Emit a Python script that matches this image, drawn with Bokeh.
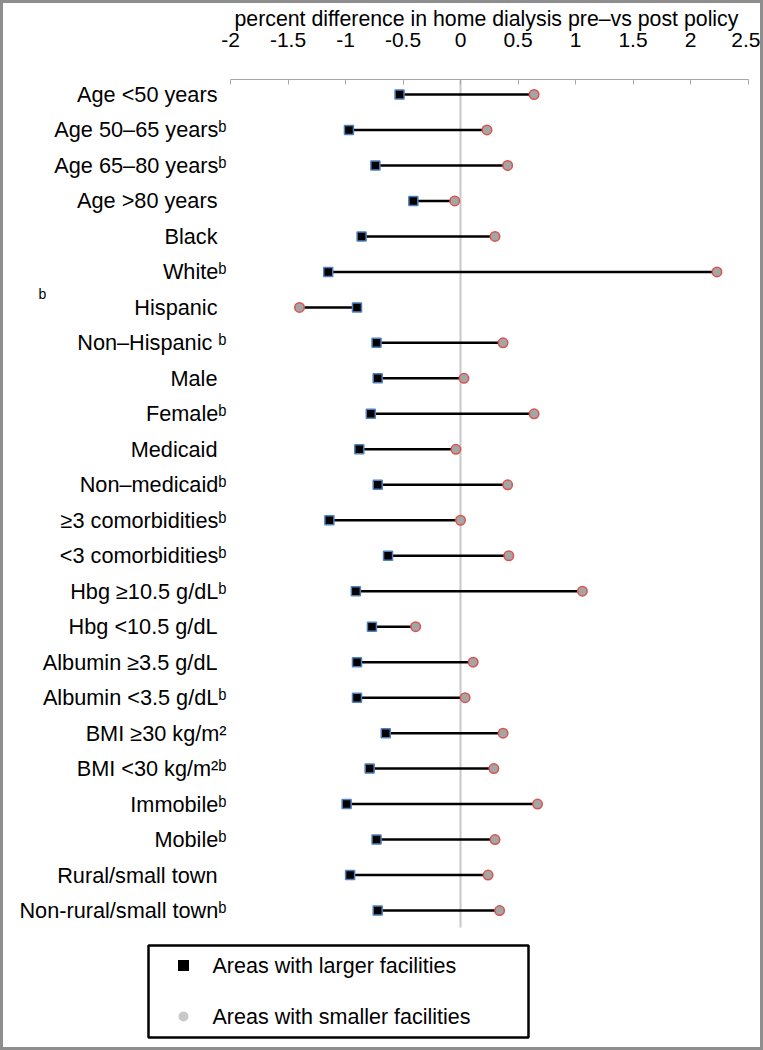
from bokeh.plotting import figure
from bokeh.models import Range1d, FixedTicker
from bokeh.embed import file_html
from bokeh.resources import INLINE
from bokeh.core.properties import value

# ---------------- data ----------------
categories = [
    "Age <50 years", "Age 50–65 yearsᵇ", "Age 65–80 yearsᵇ", "Age >80 years",
    "Black", "Whiteᵇ", "Hispanic", "Non–Hispanic ᵇ", "Male", "Femaleᵇ",
    "Medicaid", "Non–medicaidᵇ", "≥3 comorbiditiesᵇ", "<3 comorbiditiesᵇ",
    "Hbg ≥10.5 g/dLᵇ", "Hbg <10.5 g/dL", "Albumin ≥3.5 g/dL", "Albumin <3.5 g/dLᵇ",
    "BMI ≥30 kg/m²", "BMI <30 kg/m²ᵇ", "Immobileᵇ", "Mobileᵇ",
    "Rural/small town", "Non-rural/small townᵇ",
]
larger = [-0.53, -0.97, -0.74, -0.41, -0.86, -1.15, -0.90, -0.73, -0.72, -0.78,
          -0.88, -0.72, -1.14, -0.63, -0.91, -0.77, -0.90, -0.90, -0.65, -0.79,
          -0.99, -0.73, -0.96, -0.72]
smaller = [0.64, 0.23, 0.41, -0.05, 0.30, 2.23, -1.40, 0.37, 0.03, 0.64,
           -0.04, 0.41, 0.00, 0.42, 1.06, -0.39, 0.11, 0.04, 0.37, 0.29,
           0.67, 0.30, 0.24, 0.34]
x_ticks = [-2, -1.5, -1, -0.5, 0, 0.5, 1, 1.5, 2, 2.5]
x_tick_labels = ["-2", "-1.5", "-1", "-0.5", "0", "0.5", "1", "1.5", "2", "2.5"]
axis_title = "percent difference in home dialysis pre–vs post policy"
legend_labels = ["Areas with larger facilities", "Areas with smaller facilities"]
stray_note = "b"

FONT = "Liberation Sans"
rows = list(range(1, len(categories) + 1))

# ---------------- layout geometry (pixels) ----------------
M = 3                     # page margin used by the grey frame
W, H = 763 - 2 * M, 1050 - 2 * M
TOP = 79 - M              # space above the plot frame for the top axis
PX_PER_UNIT = 115.0       # horizontal scale
AX_LEFT_PX = 230 - M      # where x = -2 sits (from figure left)
ROW_PX = 35.48            # row pitch
ROW1_PX = 15              # first row below frame top
DATA_BOTTOM_PX = 848      # end of data area below frame top

x0 = x_ticks[0] - AX_LEFT_PX / PX_PER_UNIT
x1 = x0 + W / PX_PER_UNIT
y_top = 1 - ROW1_PX / ROW_PX
y_bot = y_top + (H - TOP) / ROW_PX


def px_x(px):   # page-pixel x -> data x
    return x0 + (px - M) / PX_PER_UNIT


def px_y(py):   # pixel below frame top -> data y (row units)
    return y_top + py / ROW_PX


p = figure(width=W, height=H,
           x_range=Range1d(x0, x1), y_range=Range1d(y_bot, y_top),
           x_axis_location="above", y_axis_location=None,
           output_backend="svg", toolbar_location=None,
           min_border_left=0, min_border_right=0,
           min_border_top=TOP, min_border_bottom=0,
           styles={"margin": f"{M}px", "outline": f"{M}px solid #8e8e8e",
                   "outline-offset": "0px"})
p.outline_line_color = None
p.grid.visible = False
p.background_fill_color = "white"
p.border_fill_color = "white"

# axis title as a left-aligned plot title sitting above the top axis
p.title.text = axis_title
p.title.align = "left"
p.title.offset = 234 - M
p.title.text_font = FONT
p.title.text_font_size = "21.3px"
p.title.text_font_style = "normal"
p.title.text_color = "black"
p.title.standoff = -3

xa = p.xaxis[0]
xa.bounds = (x_ticks[0], x_ticks[-1])
xa.ticker = FixedTicker(ticks=x_ticks, minor_ticks=[])
xa.major_label_overrides = {t: s for t, s in zip(x_ticks, x_tick_labels)}
xa.axis_line_color = "#a6a6a6"
xa.axis_line_width = 1
xa.major_tick_line_color = "#a6a6a6"
xa.major_tick_in = 5
xa.major_tick_out = 0
xa.minor_tick_line_color = None
xa.major_label_text_font = FONT
xa.major_label_text_font_size = "21px"
xa.major_label_text_color = "black"
xa.major_label_standoff = 33

# category labels (left of x = -2); superscripts hang past the text edge
label_offsets = [-4 if c.endswith(("ᵇ", "²")) else -13 for c in categories]
p.text(x=[x_ticks[0]] * len(rows), y=rows, text=categories, x_offset=label_offsets,
       text_font=value(FONT), text_font_size="21.7px", text_align="right",
       text_baseline="middle", text_color="black")
p.text(x=[px_x(42)], y=[px_y(214)], text=[stray_note], text_font=value(FONT),
       text_font_size="14px", text_align="center", text_baseline="middle",
       text_color="black")

# zero reference line
p.segment(x0=[0], y0=[y_top], x1=[0], y1=[px_y(DATA_BOTTOM_PX)],
          line_color="#c8c8c8", line_width=2)

# dumbbells
p.segment(x0=larger, y0=rows, x1=smaller, y1=rows, line_color="black", line_width=2.5)
p.scatter(larger, rows, marker="square", size=9, fill_color="black",
          line_color="#4f81bd", line_width=1.5)
p.scatter(smaller, rows, marker="circle", size=9.5, fill_color="#a5a5a5",
          line_color="#d9534f", line_width=1.5)

# legend box (drawn in the lower area)
lx0, lx1 = px_x(148), px_x(528)
ly0, ly1 = px_y(866), px_y(958)
p.quad(left=[lx0], right=[lx1], top=[ly0], bottom=[ly1], fill_color=None,
       line_color="black", line_width=2.5)
p.scatter([px_x(183)], [px_y(886)], marker="square", size=11,
          fill_color="black", line_color=None)
p.scatter([px_x(183)], [px_y(937)], marker="circle", size=10,
          fill_color="#c8c8c8", line_color=None)
p.text(x=[px_x(212)] * 2, y=[px_y(886), px_y(937)], text=legend_labels,
       text_font=value(FONT), text_font_size="21.5px", text_baseline="middle",
       text_align="left", text_color="black")

open("out.html", "w").write(file_html(p, INLINE))
